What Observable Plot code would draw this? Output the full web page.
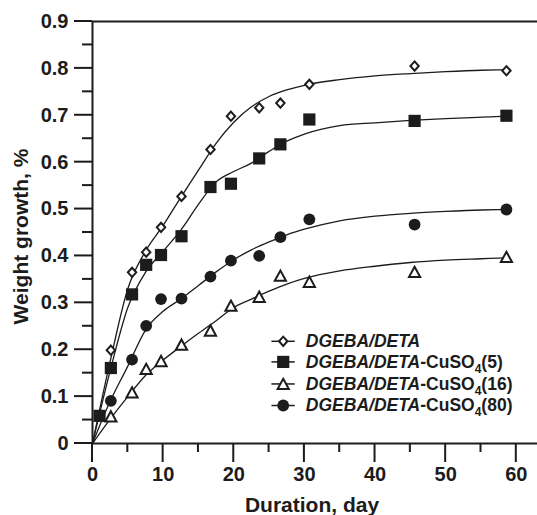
<!DOCTYPE html>
<html>
<head>
<meta charset="utf-8">
<script src="https://cdn.jsdelivr.net/npm/d3@7"></script>
<script src="https://cdn.jsdelivr.net/npm/@observablehq/plot@0.6"></script>
<style>
  html, body { margin: 0; padding: 0; background: #fff; }
  #chart { width: 537px; height: 515px; }
</style>
</head>
<body>
<div id="chart"></div>
<script>
// ---- Data ----
const seriesNames = ["DGEBA/DETA", "DGEBA/DETA-CuSO4(5)", "DGEBA/DETA-CuSO4(16)", "DGEBA/DETA-CuSO4(80)"];

const daysMain = [2.6, 5.6, 7.6, 9.7, 12.6, 16.7, 19.6, 23.6, 26.6, 30.7, 45.6, 58.6];
const daysSq   = [1.0, 2.6, 5.6, 7.6, 9.7, 12.6, 16.7, 19.6, 23.6, 26.6, 30.7, 45.6, 58.6];

const valDiamond  = [0.199, 0.365, 0.408, 0.461, 0.527, 0.627, 0.698, 0.716, 0.726, 0.766, 0.805, 0.795];
const valSquare   = [0.059, 0.161, 0.318, 0.381, 0.402, 0.442, 0.547, 0.554, 0.608, 0.638, 0.691, 0.688, 0.699];
const valTriangle = [0.058, 0.109, 0.159, 0.176, 0.211, 0.241, 0.294, 0.313, 0.358, 0.345, 0.366, 0.398];
const valCircle   = [0.091, 0.179, 0.251, 0.308, 0.309, 0.356, 0.390, 0.400, 0.440, 0.478, 0.467, 0.499];

// fitted curves
const fitDays     = [0, 2.5, 5, 7.5, 10, 12.5, 15, 17.5, 20, 22.5, 25, 27.5, 30, 35, 40, 45, 50, 55, 58.6];
const fitDiamond  = [0, 0.175, 0.33, 0.41, 0.465, 0.525, 0.583, 0.64, 0.685, 0.718, 0.74, 0.754, 0.764, 0.776, 0.784, 0.789, 0.793, 0.796, 0.797];
const fitSquare   = [0, 0.155, 0.29, 0.365, 0.41, 0.455, 0.51, 0.558, 0.58, 0.598, 0.623, 0.645, 0.66, 0.678, 0.684, 0.689, 0.693, 0.696, 0.698];
const fitTriangle = [0, 0.052, 0.1, 0.145, 0.178, 0.207, 0.235, 0.262, 0.29, 0.308, 0.325, 0.34, 0.352, 0.368, 0.378, 0.386, 0.391, 0.394, 0.396];
const fitCircle   = [0, 0.09, 0.165, 0.242, 0.282, 0.308, 0.337, 0.366, 0.392, 0.413, 0.43, 0.445, 0.457, 0.475, 0.485, 0.491, 0.495, 0.498, 0.499];

const xTicks = [0, 10, 20, 30, 40, 50, 60];
const xMinor = [5, 15, 25, 35, 45, 55];
const yTicks = [0, 0.1, 0.2, 0.3, 0.4, 0.5, 0.6, 0.7, 0.8, 0.9];
const yMinor = [0.05, 0.15, 0.25, 0.35, 0.45, 0.55, 0.65, 0.75, 0.85];

// legend anchors (in data units)
const legendRowY = [0.218, 0.174, 0.127, 0.081];
const legendSymX = 27.0, legendLineX1 = 25.4, legendLineX2 = 28.7, legendTextX = 30.2;

// ---- layout ----
const W = 537, H = 515, mL = 92, mR = 0, mT = 21, mB = 72;
const xDomain = [0, 63], yDomain = [0, 0.9];
const frameW = W - mL - mR, frameH = H - mT - mB;
const pxX = (xDomain[1] - xDomain[0]) / frameW;   // data units per pixel
const pxY = (yDomain[1] - yDomain[0]) / frameH;

// ---- symbols ----
const symDiamond = { draw(ctx, size) { const r = Math.sqrt(size / Math.PI); ctx.moveTo(0, -1.1 * r); ctx.lineTo(r, 0); ctx.lineTo(0, 1.1 * r); ctx.lineTo(-r, 0); ctx.closePath(); } };
const symSquare  = { draw(ctx, size) { const r = Math.sqrt(size / Math.PI); ctx.rect(-r, -r, 2 * r, 2 * r); } };
const symTri     = { draw(ctx, size) { const r = Math.sqrt(size / Math.PI); const h = 0.92 * r; ctx.moveTo(0, -h); ctx.lineTo(r, h); ctx.lineTo(-r, h); ctx.closePath(); } };
const symCircle  = { draw(ctx, size) { const r = Math.sqrt(size / Math.PI); ctx.moveTo(r, 0); ctx.arc(0, 0, r, 0, 2 * Math.PI); } };

const INK = "#1c1c1c";
const styles = [
  { sym: symDiamond, r: 4.2, fill: "white", stroke: INK, sw: 2 },
  { sym: symSquare,  r: 6.1, fill: INK, stroke: "none", sw: 0 },
  { sym: symTri,     r: 5.6, fill: "white", stroke: INK, sw: 2 },
  { sym: symCircle,  r: 5.9, fill: INK, stroke: "none", sw: 0 }
];

const pts = (xs, ys) => xs.map((x, i) => ({ x, y: ys[i] }));
const seriesPts = [pts(daysMain, valDiamond), pts(daysSq, valSquare), pts(daysMain, valTriangle), pts(daysMain, valCircle)];
const fits = [pts(fitDays, fitDiamond), pts(fitDays, fitSquare), pts(fitDays, fitTriangle), pts(fitDays, fitCircle)];
const legendRows = seriesNames.map((name, i) => ({ name, y: legendRowY[i], i }));

const marks = [];
fits.forEach(f => marks.push(Plot.line(f, { x: "x", y: "y", curve: "monotone-x", stroke: INK, strokeWidth: 1.3 })));
marks.push(Plot.ruleY([0, 0.9], { y: d => d, stroke: INK, strokeWidth: 2 }));
marks.push(Plot.ruleX([0], { x: d => d, stroke: INK, strokeWidth: 2 }));
// tick marks as thin rects (widths/lengths converted from pixels to data units)
marks.push(Plot.rect(xTicks, { x1: d => d - pxX, x2: d => d + pxX, y1: 0, y2: -19 * pxY, fill: INK }));
marks.push(Plot.rect(xMinor, { x1: d => d - pxX, x2: d => d + pxX, y1: 0, y2: -9 * pxY, fill: INK }));
marks.push(Plot.rect(yTicks, { y1: d => d - pxY, y2: d => d + pxY, x1: 0, x2: -18 * pxX, fill: INK }));
marks.push(Plot.rect(yMinor, { y1: d => d - pxY, y2: d => d + pxY, x1: 0, x2: -10 * pxX, fill: INK }));
marks.push(Plot.axisX(xTicks, { tickSize: 0, tickPadding: 23, fontSize: 20, fontWeight: "bold", fill: INK, label: null, tickFormat: d => String(d) }));
marks.push(Plot.axisY(yTicks, { tickSize: 0, tickPadding: 24, fontSize: 20, fontWeight: "bold", fill: INK, label: null, tickFormat: d => d === 0 ? "0" : d.toFixed(1) }));
marks.push(Plot.text(["Weight growth, %"], { frameAnchor: "left", textAnchor: "middle", lineAnchor: "middle", dx: -71.7, dy: 4, rotate: -90, fontSize: 21, fontWeight: "bold", fill: INK, text: d => d }));
marks.push(Plot.text(["Duration, day"], { frameAnchor: "bottom", textAnchor: "middle", lineAnchor: "middle", dx: -3, dy: 62, fontSize: 21, fontWeight: "bold", fill: INK, text: d => d }));
seriesPts.forEach((p, i) => {
  const s = styles[i];
  marks.push(Plot.dot(p, { x: "x", y: "y", symbol: s.sym, r: s.r, fill: s.fill, stroke: s.stroke, strokeWidth: s.sw }));
});
marks.push(Plot.ruleY(legendRows, { y: "y", x1: legendLineX1, x2: legendLineX2, stroke: INK, strokeWidth: 1.5 }));
legendRows.forEach((row, i) => {
  const s = styles[i];
  marks.push(Plot.dot([row], { x: () => legendSymX, y: "y", symbol: s.sym, r: s.r, fill: s.fill, stroke: s.stroke, strokeWidth: s.sw }));
});
marks.push(Plot.text(legendRows, { x: () => legendTextX, y: "y", text: "name", textAnchor: "start", lineAnchor: "middle", fontSize: 17.5, fontWeight: "bold", fill: INK }));

const chart = Plot.plot({
  width: W, height: H, marginLeft: mL, marginRight: mR, marginTop: mT, marginBottom: mB,
  style: { fontFamily: "'Liberation Sans', Arial, sans-serif", background: "white", color: INK, overflow: "visible" },
  x: { domain: xDomain, axis: null },
  y: { domain: yDomain, axis: null },
  marks
});

// legend label styling: italic name, subscript 4
d3.select(chart).selectAll("text").each(function () {
  const txt = this.textContent;
  if (!seriesNames.includes(txt)) return;
  const m = txt.match(/^(.*?)(-CuSO)(4)(.*)$/);
  const t = d3.select(this);
  t.text(null);
  if (!m) { t.append("tspan").attr("font-style", "italic").text(txt); return; }
  t.append("tspan").attr("font-style", "italic").text(m[1]);
  t.append("tspan").text(m[2]);
  t.append("tspan").attr("font-size", 12).attr("dy", 5).text(m[3]);
  t.append("tspan").attr("dy", -5).text(m[4]);
});

document.getElementById("chart").appendChild(chart);
</script>
</body>
</html>
